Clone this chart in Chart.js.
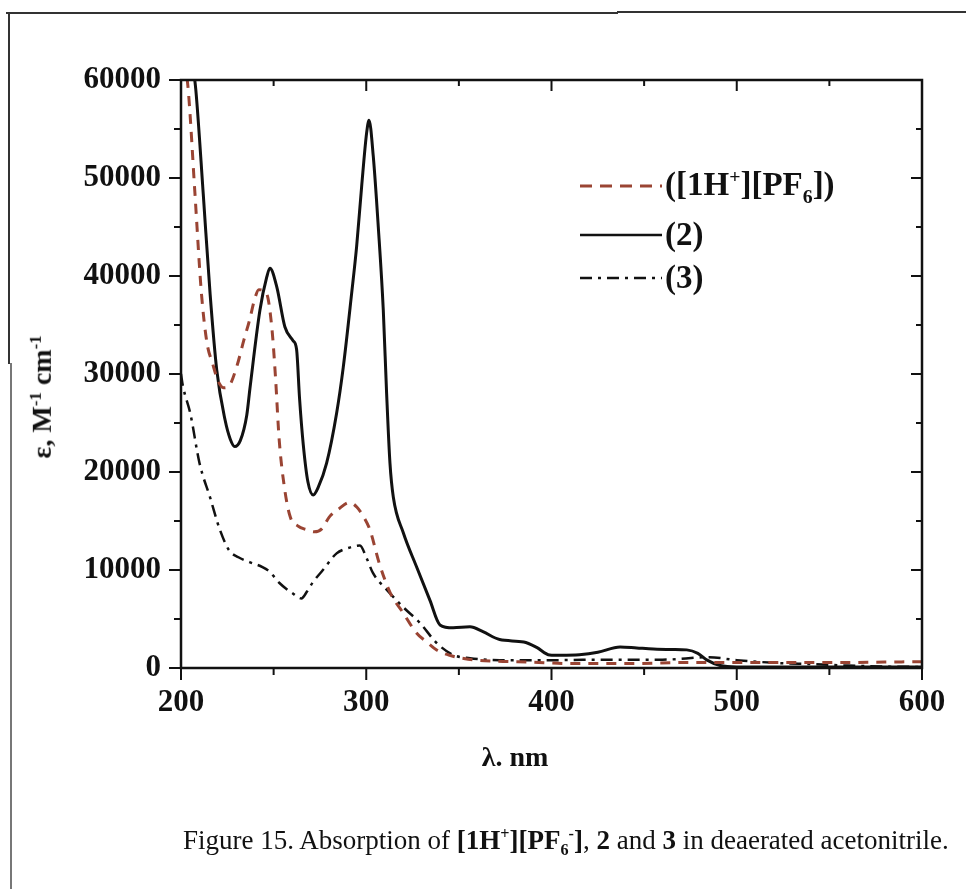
<!DOCTYPE html>
<html>
<head>
<meta charset="utf-8">
<script src="https://cdn.jsdelivr.net/npm/chart.js@4.4.1/dist/chart.umd.min.js"></script>
<style>
    body { margin: 0; background: #fff; }
    #wrap { position: relative; width: 966px; height: 889px; font-family: 'Liberation Serif', 'Times New Roman', serif; color: #111; }
    #chart { position: absolute; left: 0; top: 0; }
    .frame { position: absolute; background: #333; }
    .lbl { position: absolute; white-space: nowrap; font-weight: bold; }
    .lbl sup, .lbl sub, .cap sup, .cap sub, .leg sup, .leg sub { font-size: 60%; }
    .cap { position: absolute; left: 183px; top: 825px; font-size: 27px; white-space: nowrap; }
    .leg { position: absolute; left: 580px; display: flex; align-items: center; font-weight: bold; font-size: 33px; white-space: nowrap; }
    .leg svg { margin-right: 3px; }
</style>
</head>
<body>
<div id="wrap">
    <canvas id="chart" width="966" height="889"></canvas>
    <div class="frame" style="left:6px; top:12px; width:612px; height:2px;"></div>
    <div class="frame" style="left:617px; top:11px; width:349px; height:2px;"></div>
    <div class="frame" style="left:8px; top:12px; width:2px; height:352px;"></div>
    <div class="frame" style="left:10px; top:363px; width:2px; height:526px; background:#777;"></div>

    <div class="leg" style="top:165px;">
        <svg width="82" height="10"><line x1="0" y1="5" x2="82" y2="5" stroke="#9a4433" stroke-width="3" stroke-dasharray="12,8"/></svg>
        <span>([1H<sup>+</sup>][PF<sub>6</sub>])</span>
    </div>
    <div class="leg" style="top:216px;">
        <svg width="82" height="10"><line x1="0" y1="5" x2="82" y2="5" stroke="#111" stroke-width="2.5"/></svg>
        <span>(2)</span>
    </div>
    <div class="leg" style="top:259px;">
        <svg width="82" height="10"><line x1="0" y1="5" x2="82" y2="5" stroke="#111" stroke-width="2.5" stroke-dasharray="12,6,3,6"/></svg>
        <span>(3)</span>
    </div>

    <div class="lbl" style="left:42px; top:397px; font-size:28px; transform:translate(-50%,-50%) rotate(-90deg);">ε, M<sup>-1</sup> cm<sup>-1</sup></div>
    <div class="lbl" style="left:515px; top:757px; font-size:28px; transform:translate(-50%,-50%);">λ. nm</div>

    <div class="cap">Figure 15. Absorption of <b>[1H<sup>+</sup>][PF<sub>6</sub><sup>-</sup>]</b>, <b>2</b> and <b>3</b> in deaerated acetonitrile.</div>
</div>
<script>
// [1H+][PF6-]
const wl1 = [202, 204, 207.5, 211, 214, 217, 220, 223, 226, 230, 234, 237, 240, 242, 246, 249, 251, 253, 256, 259, 263, 268, 272, 276, 280, 285, 291, 295, 299, 302, 307, 313, 320, 327, 333, 338, 345, 355, 370, 390, 410, 440, 470, 500, 550, 600];
const eps1 = [62000, 58800, 48500, 38300, 33200, 31100, 29300, 28600, 28800, 30700, 33500, 35500, 37800, 38600, 38300, 34800, 29700, 23300, 18200, 15400, 14500, 14100, 13900, 14200, 15400, 16200, 16900, 16400, 15300, 14100, 10700, 7650, 5600, 3600, 2600, 1840, 1300, 900, 700, 600, 450, 450, 550, 550, 550, 650];

// compound 2
const wl2 = [206, 208, 212, 215.7, 219.3, 223.8, 226.5, 229, 232, 235.5, 237.2, 242.6, 246.3, 248, 251.7, 256.1, 260.5, 262.4, 264, 266, 268.5, 271.4, 274, 278.6, 284, 287.6, 292.1, 294.8, 297.5, 300.2, 301.5, 303.8, 306.5, 309.2, 311, 312.8, 314.6, 320, 327.2, 334.4, 339.8, 346.9, 356, 363, 372, 385, 392, 399, 405, 415, 425, 437, 446, 455, 465, 473, 479, 484, 491, 500, 550, 600];
const eps2 = [62000, 59000, 48400, 38200, 30400, 25300, 23400, 22600, 23200, 25800, 28500, 36500, 39900, 40800, 38900, 34800, 33400, 32500, 27500, 22800, 19000, 17650, 18400, 20900, 26000, 30700, 38200, 43000, 49100, 54600, 55900, 52200, 45000, 36500, 28000, 20900, 17450, 13800, 10300, 6900, 4400, 4100, 4200, 3700, 2900, 2650, 2100, 1330, 1300, 1350, 1600, 2150, 2050, 1950, 1900, 1850, 1500, 800, 250, 100, 100, 100];

// compound 3
const wl3 = [200, 201, 205, 210, 215.7, 221, 226, 231, 237, 244, 248, 253, 260, 265, 268, 271, 276.6, 284, 289.6, 296.6, 300, 303.6, 311, 320, 329, 338, 347, 356, 372, 400, 430, 460, 485, 500, 523, 541, 560, 580, 600];
const eps3 = [30000, 28800, 26000, 20900, 17400, 14100, 12000, 11300, 10800, 10300, 9800, 8700, 7650, 7100, 7800, 8700, 10000, 11700, 12200, 12500, 11300, 9700, 8000, 6200, 4600, 2550, 1330, 1000, 800, 800, 850, 850, 1100, 800, 500, 400, 250, 150, 100];

const xMin = 200, xMax = 600, xStep = 100;
const yMin = 0, yMax = 60000, yStep = 10000;

function toPoints(xs, ys) {
    return xs.map((x, i) => ({ x: x, y: ys[i] }));
}

// frame and ticks: left/bottom outward, top/right inward, with minor ticks at half steps
const axisFrame = {
    id: 'axisFrame',
    afterDraw(chart) {
        const ctx = chart.ctx;
        const a = chart.chartArea;
        const xs = chart.scales.x, ys = chart.scales.y;
        ctx.save();
        ctx.strokeStyle = '#111';
        ctx.lineWidth = 2.5;
        ctx.strokeRect(a.left, a.top, a.right - a.left, a.bottom - a.top);
        ctx.lineWidth = 2;
        ctx.beginPath();
        for (let v = xMin; v <= xMax; v += xStep / 2) {
            const px = xs.getPixelForValue(v);
            const major = (v - xMin) % xStep === 0;
            ctx.moveTo(px, a.bottom); ctx.lineTo(px, a.bottom + (major ? 12 : 7));
            ctx.moveTo(px, a.top); ctx.lineTo(px, a.top + (major ? 11 : 6));
        }
        for (let v = yMin; v <= yMax; v += yStep / 2) {
            const py = ys.getPixelForValue(v);
            const major = (v - yMin) % yStep === 0;
            ctx.moveTo(a.left, py); ctx.lineTo(a.left - (major ? 12 : 7), py);
            ctx.moveTo(a.right, py); ctx.lineTo(a.right - (major ? 11 : 6), py);
        }
        ctx.stroke();
        ctx.restore();
    }
};

const tickFont = { family: "'Liberation Serif', 'Times New Roman', serif", size: 31, weight: 'bold' };

new Chart(document.getElementById('chart').getContext('2d'), {
    type: 'line',
    data: {
        datasets: [
            {
                label: '([1H+][PF6])',
                data: toPoints(wl1, eps1),
                borderColor: '#9a4433',
                borderWidth: 3,
                borderDash: [10, 8],
                pointRadius: 0,
                cubicInterpolationMode: 'monotone'
            },
            {
                label: '(2)',
                data: toPoints(wl2, eps2),
                borderColor: '#111',
                borderWidth: 3,
                pointRadius: 0,
                cubicInterpolationMode: 'monotone'
            },
            {
                label: '(3)',
                data: toPoints(wl3, eps3),
                borderColor: '#111',
                borderWidth: 2.5,
                borderDash: [12, 6, 3, 6],
                pointRadius: 0,
                cubicInterpolationMode: 'monotone'
            }
        ]
    },
    options: {
        responsive: false,
        animation: false,
        devicePixelRatio: 1,
        layout: { padding: { left: 0, right: 44, top: 80, bottom: 0 } },
        plugins: {
            legend: { display: false },
            tooltip: { enabled: false }
        },
        scales: {
            x: {
                type: 'linear',
                min: xMin,
                max: xMax,
                grid: { display: false, drawTicks: false },
                border: { display: false },
                ticks: { stepSize: xStep, color: '#111', font: tickFont, padding: 16, maxRotation: 0, callback: v => String(v) },
                afterFit: s => { s.height = 221; }
            },
            y: {
                min: yMin,
                max: yMax,
                grid: { display: false, drawTicks: false },
                border: { display: false },
                ticks: { stepSize: yStep, color: '#111', font: tickFont, padding: 20, callback: v => String(v) },
                afterFit: s => { s.width = 181; }
            }
        }
    },
    plugins: [axisFrame]
});
</script>
</body>
</html>
